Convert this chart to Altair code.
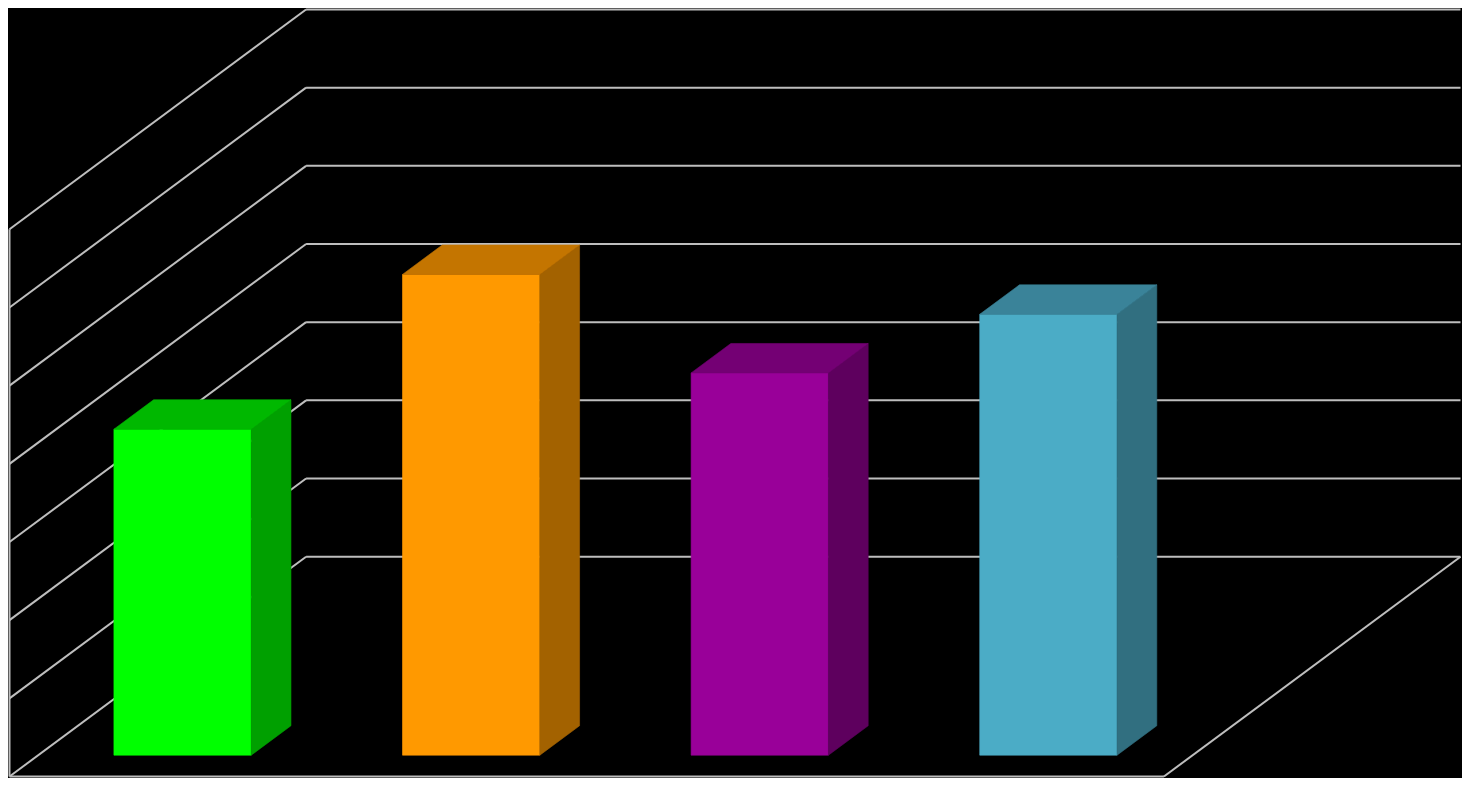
import altair as alt
import pandas as pd

# ---- data ----
categories = ["Category 1", "Category 2", "Category 3", "Category 4"]
values = [4.17, 6.15, 4.89, 5.64]
gridlines = [0, 1, 2, 3, 4, 5, 6, 7]

# ---- styles ----
front_colors = ["#00FF00", "#FF9900", "#990099", "#4BACC6"]
top_colors = ["#00B800", "#C47500", "#740074", "#3A8399"]
side_colors = ["#00A000", "#A36200", "#5E005E", "#316F80"]
GRID_COLOR = "#BEBEBE"

# ---- oblique projection parameters (world: x in category slots, v in value units, z depth 0..1)
OX = 298 / 290      # horizontal shift of the full depth, in category slots
OY = 223 / 79.3     # vertical shift of the full depth, in value units
BAR_W = 138 / 290   # bar width as fraction of slot
Z0 = 0.097          # bar front depth
DZ = 0.134          # bar depth
N = len(categories)
VMAX = max(gridlines)

W, H = 1454, 770


def proj(x, v, z):
    return x + z * OX, v + z * OY


# screen scale domains
SX_MAX = N + OX
SY_MAX = VMAX + OY
ppx = (W - 3) / SX_MAX
xa = -1.5 / ppx
xdom = [xa, xa + W / ppx]
ppy = (H - 3) / SY_MAX
ya = -1.5 / ppy
ydom = [ya, ya + H / ppy]

# ---- wall / floor segments ----
segs = []


def seg(p, q):
    segs.append({"x": p[0], "y": p[1], "x2": q[0], "y2": q[1]})


for g in gridlines:
    seg(proj(0, g, 0), proj(0, g, 1))   # left wall
    seg(proj(0, g, 1), proj(N, g, 1))   # back wall
seg(proj(0, 0, 0), proj(0, VMAX, 0))    # left front edge
seg(proj(0, 0, 0), proj(N, 0, 0))       # floor front
seg(proj(N, 0, 0), proj(N, 0, 1))       # floor right
seg_df = pd.DataFrame(segs)

# ---- bar faces ----
front_rows, side_rows, top_rows = [], [], []
for i, (c, v) in enumerate(zip(categories, values)):
    xl = i + (1 - BAR_W) / 2
    xr = xl + BAR_W
    a = proj(xl, 0, Z0)
    b = proj(xr, v, Z0)
    front_rows.append({"key": c + "|front", "x": a[0], "x2": b[0], "y": a[1], "y2": b[1]})
    for z in (Z0, Z0 + DZ):
        t = proj(xr, v, z)
        bt = proj(xr, 0, z)
        side_rows.append({"key": c + "|side", "x": t[0], "y": t[1], "y2": bt[1]})
        l = proj(xl, v, z)
        r = proj(xr, v, z)
        top_rows.append({"key": c + "|top", "y": l[1], "x": l[0], "x2": r[0]})

front_df = pd.DataFrame(front_rows)
side_df = pd.DataFrame(side_rows)
top_df = pd.DataFrame(top_rows)

keys = [c + "|front" for c in categories] + [c + "|side" for c in categories] + [c + "|top" for c in categories]
cols = front_colors + side_colors + top_colors
cscale = alt.Scale(domain=keys, range=cols)
color = alt.Color("key:N", scale=cscale, legend=None)
stroke = alt.Stroke("key:N", scale=cscale, legend=None)

xs = alt.Scale(domain=xdom, nice=False, zero=False)
ys = alt.Scale(domain=ydom, nice=False, zero=False)

rules = alt.Chart(seg_df).mark_rule(stroke=GRID_COLOR, strokeWidth=2).encode(
    x=alt.X("x:Q", scale=xs, axis=None),
    y=alt.Y("y:Q", scale=ys, axis=None),
    x2="x2:Q",
    y2="y2:Q",
)

front = alt.Chart(front_df).mark_rect(strokeWidth=0.6).encode(
    x=alt.X("x:Q", scale=xs, axis=None),
    x2="x2:Q",
    y=alt.Y("y:Q", scale=ys, axis=None),
    y2="y2:Q",
    color=color,
    stroke=stroke,
)

side = alt.Chart(side_df).mark_area(orient="vertical", strokeWidth=0.6).encode(
    x=alt.X("x:Q", scale=xs, axis=None),
    y=alt.Y("y:Q", scale=ys, axis=None),
    y2="y2:Q",
    color=color,
    stroke=stroke,
    detail="key:N",
)

top = alt.Chart(top_df).mark_area(orient="horizontal", strokeWidth=0.6).encode(
    y=alt.Y("y:Q", scale=ys, axis=None),
    x=alt.X("x:Q", scale=xs, axis=None),
    x2="x2:Q",
    color=color,
    stroke=stroke,
    detail="key:N",
)

chart = alt.layer(rules, front, side, top).properties(
    width=W, height=H, padding=0, autosize="none", background="black"
).configure_view(strokeWidth=0)

chart.save("out.html", embed_options={"renderer": "svg", "actions": False})
